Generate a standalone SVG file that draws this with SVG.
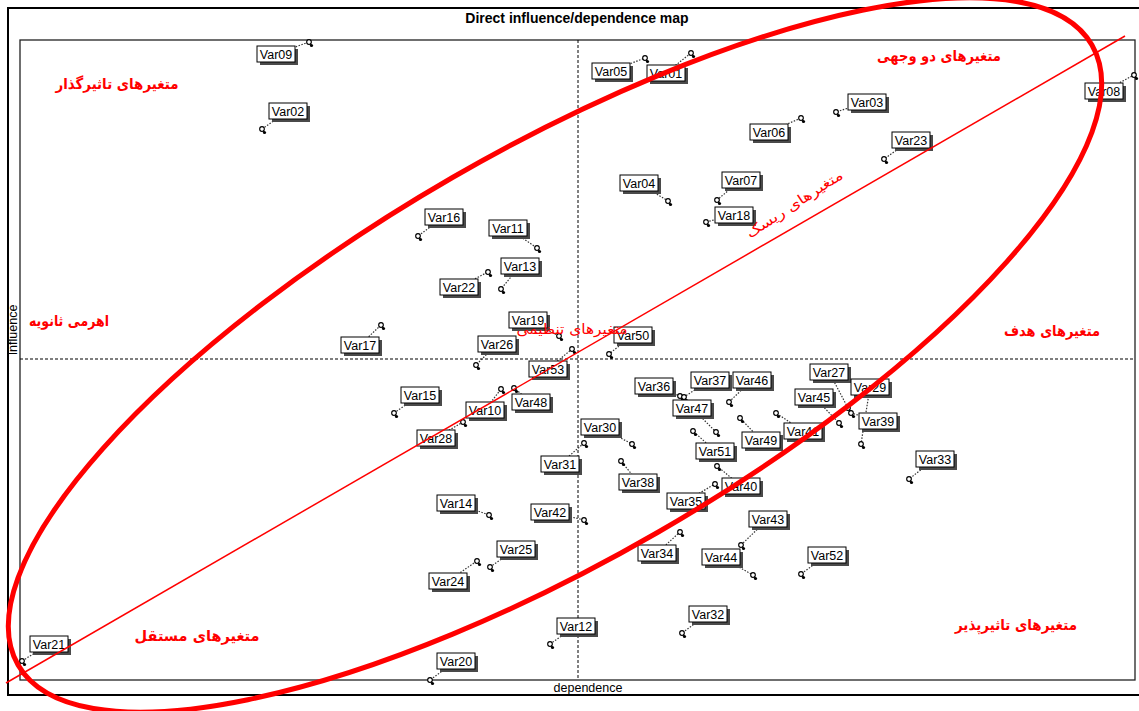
<svg xmlns="http://www.w3.org/2000/svg" xmlns:xlink="http://www.w3.org/1999/xlink" width="1139" height="711" viewBox="0 0 1139 711">
<style>
.lb{font-family:"Liberation Sans",Arial,sans-serif;font-size:12.5px;fill:#000;text-anchor:middle}
.ld line{stroke:#333;stroke-width:1.2;stroke-dasharray:1.5 1.5;fill:none}
.fa{font-family:"DejaVu Sans",sans-serif;fill:#f00;text-anchor:middle;font-weight:bold;font-size:15px}
.fr{font-family:"DejaVu Sans",sans-serif;fill:#f00;text-anchor:middle;font-size:14px}
.ax{font-family:"Liberation Sans",Arial,sans-serif;font-size:12.5px;fill:#000;text-anchor:middle}
</style>
<defs>
<g id="box"><rect x="-16" y="-5" width="38" height="16" fill="#4a4a4a"/><rect x="-19" y="-8" width="38" height="16" fill="#fff" stroke="#000" stroke-width="1"/></g>
<g id="pt"><line x1="0" y1="0" x2="2.5" y2="3.5" stroke="#000" stroke-width="1"/><circle cx="0" cy="0" r="2.3" fill="#fff" stroke="#000" stroke-width="1.2"/><circle cx="2.5" cy="3.5" r="1.6" fill="#000"/></g>
</defs>
<rect width="1139" height="711" fill="#fff"/>
<rect x="8" y="8" width="1140" height="687" fill="none" stroke="#000" stroke-width="2"/>
<rect x="20" y="40" width="1115" height="640" fill="none" stroke="#222" stroke-width="1.3"/>
<text x="577" y="23" font-family="Liberation Sans, Arial, sans-serif" font-size="14" font-weight="bold" text-anchor="middle">Direct influence/dependence map</text>
<text class="ax" x="588" y="692">dependence</text>
<text class="ax" transform="translate(17,330) rotate(-90)">Influence</text>
<line x1="578" y1="40" x2="578" y2="680" stroke="#000" stroke-width="1" stroke-dasharray="3 2"/>
<line x1="20" y1="359" x2="1135" y2="359" stroke="#000" stroke-width="1.2" stroke-dasharray="3 2"/>
<g id="connectors" class="ld">
<line x1="276" y1="54" x2="309" y2="42"/>
<line x1="288" y1="111" x2="262" y2="129"/>
<line x1="611" y1="71" x2="645" y2="58"/>
<line x1="666" y1="73" x2="691" y2="53"/>
<line x1="867" y1="102" x2="836" y2="112"/>
<line x1="769" y1="132" x2="801" y2="118"/>
<line x1="911" y1="140" x2="884" y2="159"/>
<line x1="1104" y1="91" x2="1134" y2="75"/>
<line x1="639" y1="183" x2="668" y2="201"/>
<line x1="741" y1="180" x2="717" y2="200"/>
<line x1="734" y1="215" x2="706" y2="222"/>
<line x1="444" y1="217" x2="418" y2="236"/>
<line x1="508" y1="228" x2="537" y2="248"/>
<line x1="520" y1="266" x2="501" y2="289"/>
<line x1="459" y1="287" x2="488" y2="272"/>
<line x1="360" y1="345" x2="381" y2="325"/>
<line x1="528" y1="320" x2="559" y2="336"/>
<line x1="497" y1="344" x2="476" y2="365"/>
<line x1="548" y1="369" x2="572" y2="349"/>
<line x1="633" y1="335" x2="609" y2="354"/>
<line x1="420" y1="395" x2="394" y2="413"/>
<line x1="485" y1="410" x2="501" y2="389"/>
<line x1="531" y1="402" x2="514" y2="388"/>
<line x1="436" y1="438" x2="463" y2="422"/>
<line x1="600" y1="427" x2="632" y2="444"/>
<line x1="560" y1="464" x2="584" y2="443"/>
<line x1="638" y1="482" x2="621" y2="461"/>
<line x1="654" y1="386" x2="680" y2="396"/>
<line x1="710" y1="380" x2="684" y2="397"/>
<line x1="752" y1="380" x2="729" y2="402"/>
<line x1="692" y1="408" x2="716" y2="432"/>
<line x1="715" y1="451" x2="693" y2="431"/>
<line x1="761" y1="440" x2="740" y2="418"/>
<line x1="829" y1="372" x2="848" y2="408"/>
<line x1="870" y1="387" x2="861" y2="444"/>
<line x1="814" y1="397" x2="839" y2="423"/>
<line x1="803" y1="431" x2="776" y2="413"/>
<line x1="878" y1="421" x2="851" y2="413"/>
<line x1="935" y1="459" x2="909" y2="479"/>
<line x1="741" y1="486" x2="717" y2="466"/>
<line x1="686" y1="501" x2="715" y2="484"/>
<line x1="768" y1="519" x2="741" y2="545"/>
<line x1="657" y1="553" x2="680" y2="532"/>
<line x1="721" y1="557" x2="753" y2="575"/>
<line x1="827" y1="555" x2="801" y2="574"/>
<line x1="708" y1="614" x2="682" y2="633"/>
<line x1="456" y1="503" x2="489" y2="515"/>
<line x1="550" y1="512" x2="584" y2="520"/>
<line x1="516" y1="549" x2="490" y2="567"/>
<line x1="448" y1="581" x2="477" y2="561"/>
<line x1="49" y1="644" x2="22" y2="661"/>
<line x1="456" y1="661" x2="430" y2="680"/>
<line x1="576" y1="626" x2="550" y2="644"/>
</g>
<g id="var09"><use href="#box" x="276" y="54"/><text class="lb" x="276" y="58.5">Var09</text><use href="#pt" x="309" y="42"/></g>
<g id="var02"><use href="#box" x="288" y="111"/><text class="lb" x="288" y="115.5">Var02</text><use href="#pt" x="262" y="129"/></g>
<g id="var05"><use href="#box" x="611" y="71"/><text class="lb" x="611" y="75.5">Var05</text><use href="#pt" x="645" y="58"/></g>
<g id="var01"><use href="#box" x="666" y="73"/><text class="lb" x="666" y="77.5">Var01</text><use href="#pt" x="691" y="53"/></g>
<g id="var03"><use href="#box" x="867" y="102"/><text class="lb" x="867" y="106.5">Var03</text><use href="#pt" x="836" y="112"/></g>
<g id="var06"><use href="#box" x="769" y="132"/><text class="lb" x="769" y="136.5">Var06</text><use href="#pt" x="801" y="118"/></g>
<g id="var23"><use href="#box" x="911" y="140"/><text class="lb" x="911" y="144.5">Var23</text><use href="#pt" x="884" y="159"/></g>
<g id="var08"><use href="#box" x="1104" y="91"/><text class="lb" x="1104" y="95.5">Var08</text><use href="#pt" x="1134" y="75"/></g>
<g id="var04"><use href="#box" x="639" y="183"/><text class="lb" x="639" y="187.5">Var04</text><use href="#pt" x="668" y="201"/></g>
<g id="var07"><use href="#box" x="741" y="180"/><text class="lb" x="741" y="184.5">Var07</text><use href="#pt" x="717" y="200"/></g>
<g id="var18"><use href="#box" x="734" y="215"/><text class="lb" x="734" y="219.5">Var18</text><use href="#pt" x="706" y="222"/></g>
<g id="var16"><use href="#box" x="444" y="217"/><text class="lb" x="444" y="221.5">Var16</text><use href="#pt" x="418" y="236"/></g>
<g id="var11"><use href="#box" x="508" y="228"/><text class="lb" x="508" y="232.5">Var11</text><use href="#pt" x="537" y="248"/></g>
<g id="var13"><use href="#box" x="520" y="266"/><text class="lb" x="520" y="270.5">Var13</text><use href="#pt" x="501" y="289"/></g>
<g id="var22"><use href="#box" x="459" y="287"/><text class="lb" x="459" y="291.5">Var22</text><use href="#pt" x="488" y="272"/></g>
<g id="var17"><use href="#box" x="360" y="345"/><text class="lb" x="360" y="349.5">Var17</text><use href="#pt" x="381" y="325"/></g>
<g id="var19"><use href="#box" x="528" y="320"/><text class="lb" x="528" y="324.5">Var19</text><use href="#pt" x="559" y="336"/></g>
<g id="var26"><use href="#box" x="497" y="344"/><text class="lb" x="497" y="348.5">Var26</text><use href="#pt" x="476" y="365"/></g>
<g id="var53"><use href="#box" x="548" y="369"/><text class="lb" x="548" y="373.5">Var53</text><use href="#pt" x="572" y="349"/></g>
<g id="var50"><use href="#box" x="633" y="335"/><text class="lb" x="633" y="339.5">Var50</text><use href="#pt" x="609" y="354"/></g>
<g id="var15"><use href="#box" x="420" y="395"/><text class="lb" x="420" y="399.5">Var15</text><use href="#pt" x="394" y="413"/></g>
<g id="var10"><use href="#box" x="485" y="410"/><text class="lb" x="485" y="414.5">Var10</text><use href="#pt" x="501" y="389"/></g>
<g id="var48"><use href="#box" x="531" y="402"/><text class="lb" x="531" y="406.5">Var48</text><use href="#pt" x="514" y="388"/></g>
<g id="var28"><use href="#box" x="436" y="438"/><text class="lb" x="436" y="442.5">Var28</text><use href="#pt" x="463" y="422"/></g>
<g id="var30"><use href="#box" x="600" y="427"/><text class="lb" x="600" y="431.5">Var30</text><use href="#pt" x="632" y="444"/></g>
<g id="var31"><use href="#box" x="560" y="464"/><text class="lb" x="560" y="468.5">Var31</text><use href="#pt" x="584" y="443"/></g>
<g id="var38"><use href="#box" x="638" y="482"/><text class="lb" x="638" y="486.5">Var38</text><use href="#pt" x="621" y="461"/></g>
<g id="var36"><use href="#box" x="654" y="386"/><text class="lb" x="654" y="390.5">Var36</text><use href="#pt" x="680" y="396"/></g>
<g id="var37"><use href="#box" x="710" y="380"/><text class="lb" x="710" y="384.5">Var37</text><use href="#pt" x="684" y="397"/></g>
<g id="var46"><use href="#box" x="752" y="380"/><text class="lb" x="752" y="384.5">Var46</text><use href="#pt" x="729" y="402"/></g>
<g id="var47"><use href="#box" x="692" y="408"/><text class="lb" x="692" y="412.5">Var47</text><use href="#pt" x="716" y="432"/></g>
<g id="var51"><use href="#box" x="715" y="451"/><text class="lb" x="715" y="455.5">Var51</text><use href="#pt" x="693" y="431"/></g>
<g id="var49"><use href="#box" x="761" y="440"/><text class="lb" x="761" y="444.5">Var49</text><use href="#pt" x="740" y="418"/></g>
<g id="var27"><use href="#box" x="829" y="372"/><text class="lb" x="829" y="376.5">Var27</text><use href="#pt" x="848" y="408"/></g>
<g id="var29"><use href="#box" x="870" y="387"/><text class="lb" x="870" y="391.5">Var29</text><use href="#pt" x="861" y="444"/></g>
<g id="var45"><use href="#box" x="814" y="397"/><text class="lb" x="814" y="401.5">Var45</text><use href="#pt" x="839" y="423"/></g>
<g id="var41"><use href="#box" x="803" y="431"/><text class="lb" x="803" y="435.5">Var41</text><use href="#pt" x="776" y="413"/></g>
<g id="var39"><use href="#box" x="878" y="421"/><text class="lb" x="878" y="425.5">Var39</text><use href="#pt" x="851" y="413"/></g>
<g id="var33"><use href="#box" x="935" y="459"/><text class="lb" x="935" y="463.5">Var33</text><use href="#pt" x="909" y="479"/></g>
<g id="var40"><use href="#box" x="741" y="486"/><text class="lb" x="741" y="490.5">Var40</text><use href="#pt" x="717" y="466"/></g>
<g id="var35"><use href="#box" x="686" y="501"/><text class="lb" x="686" y="505.5">Var35</text><use href="#pt" x="715" y="484"/></g>
<g id="var43"><use href="#box" x="768" y="519"/><text class="lb" x="768" y="523.5">Var43</text><use href="#pt" x="741" y="545"/></g>
<g id="var34"><use href="#box" x="657" y="553"/><text class="lb" x="657" y="557.5">Var34</text><use href="#pt" x="680" y="532"/></g>
<g id="var44"><use href="#box" x="721" y="557"/><text class="lb" x="721" y="561.5">Var44</text><use href="#pt" x="753" y="575"/></g>
<g id="var52"><use href="#box" x="827" y="555"/><text class="lb" x="827" y="559.5">Var52</text><use href="#pt" x="801" y="574"/></g>
<g id="var32"><use href="#box" x="708" y="614"/><text class="lb" x="708" y="618.5">Var32</text><use href="#pt" x="682" y="633"/></g>
<g id="var14"><use href="#box" x="456" y="503"/><text class="lb" x="456" y="507.5">Var14</text><use href="#pt" x="489" y="515"/></g>
<g id="var42"><use href="#box" x="550" y="512"/><text class="lb" x="550" y="516.5">Var42</text><use href="#pt" x="584" y="520"/></g>
<g id="var25"><use href="#box" x="516" y="549"/><text class="lb" x="516" y="553.5">Var25</text><use href="#pt" x="490" y="567"/></g>
<g id="var24"><use href="#box" x="448" y="581"/><text class="lb" x="448" y="585.5">Var24</text><use href="#pt" x="477" y="561"/></g>
<g id="var21"><use href="#box" x="49" y="644"/><text class="lb" x="49" y="648.5">Var21</text><use href="#pt" x="22" y="661"/></g>
<g id="var20"><use href="#box" x="456" y="661"/><text class="lb" x="456" y="665.5">Var20</text><use href="#pt" x="430" y="680"/></g>
<g id="var12"><use href="#box" x="576" y="626"/><text class="lb" x="576" y="630.5">Var12</text><use href="#pt" x="550" y="644"/></g>
<g id="overlay">
<ellipse cx="555" cy="355" rx="620" ry="205" transform="rotate(-30 555 355)" fill="none" stroke="#f00" stroke-width="5"/>
<line x1="6" y1="683" x2="1125" y2="36" stroke="#f00" stroke-width="1.5"/>
<text class="fa" x="117" y="89" textLength="123" lengthAdjust="spacingAndGlyphs">متغیرهای تاثیرگذار</text>
<text class="fa" x="939" y="61" textLength="124" lengthAdjust="spacingAndGlyphs">متغیرهای دو وجهی</text>
<text class="fa" x="69" y="326" textLength="80" lengthAdjust="spacingAndGlyphs">اهرمی ثانویه</text>
<text class="fa" x="1052" y="336" textLength="96" lengthAdjust="spacingAndGlyphs">متغیرهای هدف</text>
<text class="fr" transform="translate(797,208) rotate(-33)" textLength="112" lengthAdjust="spacingAndGlyphs">متغیرهای ریسک</text>
<text class="fr" x="572" y="334" textLength="111" lengthAdjust="spacingAndGlyphs">متغیرهای تنظیمی</text>
<text class="fa" x="197" y="641" textLength="125" lengthAdjust="spacingAndGlyphs">متغیرهای مستقل</text>
<text class="fa" x="1016" y="630" textLength="122" lengthAdjust="spacingAndGlyphs">متغیرهای تاثیرپذیر</text>
</g>
</svg>
